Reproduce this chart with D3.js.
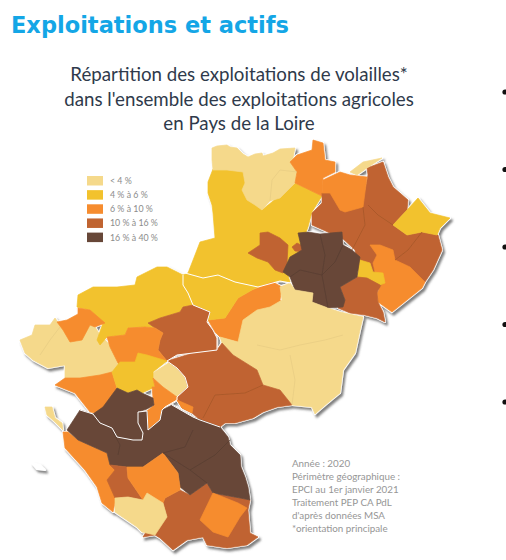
<!DOCTYPE html>
<html>
<head>
<meta charset="utf-8">
<script src="https://cdn.jsdelivr.net/npm/d3@7"></script>
<style>
  html, body { margin: 0; background: #fff; }
  svg { display: block; }
</style>
</head>
<body>
<div id="container"></div>
<script>
const classLabels = ["< 4 %", "4 % à 6 %", "6 % à 10 %", "10 % à 16 %", "16 % à 40 %"];
const classColors = ["#f5d98b", "#f2c22d", "#f68c2e", "#c06431", "#674738"];
const titleLines = ["Répartition des exploitations de volailles*", "dans l'ensemble des exploitations agricoles", "en Pays de la Loire"];
const noteLines = ["Année : 2020", "Périmètre géographique :", "EPCI au 1er janvier 2021", "Traitement PEP CA PdL", "d'après données MSA", "*orientation principale"];

// class of each zone (index in classLabels), same order as zoneRings, painted in order
const zoneClasses = [
  1, 0, 2, 3, 3, 3, 2, 0, 1, 2, 1, 3, 4,
  2, 1, 0,
  0, 1, 2, 3, 0, 2, 2, 1, 3, 2, 4, 2,
  2, 3, 4, 2, 3, 2, 0, 0
];
const zoneRings = [
  // Mayenne, Sarthe
  [[213,169],[228,169],[243,171],[262,210],[295,183],[322,196],[312,212],[308,227],[305,235],[305,255],[288,275],[290,282],[280,281],[258,287],[235,282],[218,275],[203,278],[188,273],[195,255],[200,242],[215,238],[213,213],[212,205],[208,193],[208,182]],
  [[212,148],[217,146],[227,145],[230,147],[237,148],[243,154],[248,157],[255,154],[262,153],[263,156],[273,153],[280,149],[295,148],[293,158],[290,162],[297,172],[295,183],[280,198],[270,201],[262,210],[255,205],[247,200],[242,190],[245,183],[243,172],[227,170],[213,170],[212,160]],
  [[290,162],[297,155],[312,150],[313,140],[323,143],[325,160],[335,162],[335,172],[323,178],[322,196],[295,183],[297,172]],
  [[248,253],[260,245],[260,233],[268,232],[280,238],[288,245],[287,263],[283,273],[275,270],[268,262],[257,258]],
  [[292,247],[297,243],[301,245],[305,252],[295,251]],
  [[322,193],[330,193],[345,190],[365,190],[368,175],[367,168],[383,162],[388,177],[393,187],[408,200],[407,210],[393,225],[407,235],[422,232],[438,235],[442,250],[433,270],[425,282],[400,288],[380,290],[360,280],[355,250],[342,238],[330,233],[312,225],[312,213],[322,203]],
  [[323,180],[340,172],[350,175],[367,177],[363,207],[345,212],[340,210],[330,193],[322,193]],
  [[350,172],[363,162],[382,158],[367,168],[357,175]],
  [[393,225],[407,210],[418,198],[430,213],[450,218],[440,228],[437,235],[422,232],[407,235]],
  [[370,245],[380,245],[393,250],[395,260],[410,267],[425,282],[422,288],[407,300],[392,312],[378,302],[377,293],[383,283],[375,272],[373,263],[377,255]],
  [[360,260],[370,263],[373,272],[383,273],[385,283],[380,285],[367,278],[357,277]],
  [[340,287],[357,277],[367,278],[380,285],[377,293],[378,302],[383,312],[385,322],[377,318],[365,315],[350,313],[338,308],[345,300]],
  [[298,233],[308,232],[320,234],[330,233],[342,232],[343,245],[352,250],[360,257],[357,277],[340,287],[345,300],[343,307],[328,308],[312,302],[313,293],[295,290],[290,277],[283,272],[290,257],[302,250]],
  // Maine-et-Loire
  [[208,320],[225,318],[238,298],[252,290],[273,282],[282,287],[280,300],[290,310],[260,340],[243,337],[238,342],[220,337],[215,332]],
  [[183,275],[188,273],[203,278],[218,275],[235,282],[258,287],[252,290],[238,298],[225,318],[208,320],[207,322],[210,312],[193,305],[188,293],[183,285]],
  [[220,337],[238,342],[243,320],[257,310],[270,307],[282,300],[280,287],[290,283],[295,290],[313,293],[312,302],[328,308],[340,312],[363,317],[360,330],[355,353],[343,370],[340,393],[335,397],[323,407],[315,414],[312,407],[292,405],[280,390],[263,385],[257,370],[233,355],[222,343]],
  // Loire-Atlantique
  [[20,340],[32,335],[35,325],[50,325],[55,318],[60,325],[75,335],[92,322],[100,335],[110,345],[122,365],[112,375],[100,378],[65,378],[65,365],[48,368],[33,360],[25,353]],
  [[78,295],[93,287],[117,287],[135,285],[137,277],[157,267],[167,267],[183,275],[183,285],[188,293],[193,305],[183,307],[180,312],[160,318],[148,323],[155,328],[145,327],[128,328],[125,335],[107,337],[100,345],[97,340],[103,323],[90,310],[80,308],[77,307]],
  [[57,322],[67,320],[78,314],[78,308],[90,310],[105,323],[95,327],[90,325],[82,340],[70,342],[63,330]],
  [[148,323],[160,318],[180,312],[183,307],[193,305],[210,312],[207,322],[213,330],[217,338],[217,350],[193,353],[177,355],[167,361],[158,350],[160,340],[163,333],[155,328]],
  [[153,373],[170,362],[177,368],[185,377],[188,387],[177,397],[163,387],[153,378]],
  [[107,337],[125,335],[128,328],[145,327],[155,328],[163,333],[160,340],[158,350],[167,361],[150,365],[125,370],[118,363],[110,347]],
  [[55,385],[65,378],[80,378],[100,375],[112,372],[117,388],[105,407],[100,414],[90,412],[75,393]],
  [[112,372],[120,362],[135,362],[138,353],[147,355],[167,361],[153,372],[153,378],[155,387],[142,393],[137,390],[128,393],[117,388]],
  [[167,361],[193,353],[217,350],[222,343],[233,355],[257,370],[263,385],[280,390],[292,405],[277,407],[263,412],[253,418],[235,423],[225,423],[220,427],[200,420],[192,413],[182,408],[177,400],[177,397],[188,387],[185,377],[177,368]],
  [[152,387],[155,387],[153,378],[163,387],[177,397],[177,400],[165,407],[162,410],[160,420],[148,430],[147,411],[154,405],[153,398]],
  [[93,414],[103,407],[117,388],[128,393],[137,390],[142,393],[153,398],[154,405],[147,409],[138,412],[138,423],[143,433],[142,440],[133,440],[117,437],[112,428],[100,423]],
  [[177,400],[193,407],[192,413],[182,408]],
  // Vendée
  [[63,432],[68,432],[78,440],[107,453],[110,465],[125,470],[125,490],[115,503],[113,512],[102,503],[97,487],[85,470],[65,448]],
  [[163,503],[165,498],[180,490],[190,495],[207,483],[213,493],[240,498],[250,500],[248,510],[250,533],[258,537],[247,545],[227,548],[207,545],[203,537],[187,540],[173,550],[160,538],[155,535],[143,537],[147,530],[167,517]],
  [[67,430],[80,410],[93,414],[100,423],[112,428],[117,437],[133,440],[142,440],[143,433],[138,423],[138,412],[147,411],[148,430],[160,420],[162,410],[172,405],[193,417],[220,427],[228,437],[230,445],[240,455],[241,467],[245,477],[248,487],[250,500],[240,498],[213,493],[207,483],[190,495],[180,487],[178,473],[163,453],[143,467],[127,467],[110,465],[107,453],[78,440]],
  [[213,493],[238,503],[247,508],[240,517],[228,537],[213,532],[200,520]],
  [[115,470],[110,465],[127,467],[128,478],[143,500],[128,497],[115,498],[107,480]],
  [[127,467],[143,467],[163,453],[178,473],[180,487],[180,490],[165,498],[163,503],[143,500],[128,478]],
  [[115,498],[128,497],[143,500],[147,493],[163,503],[167,517],[155,535],[142,532],[137,527],[115,512]],
  [[45,407],[52,407],[55,418],[62,423],[63,430],[55,422],[47,415]]
];
const islandRing = [[32,463],[40,465],[45,470],[37,469]];

// white limits between departments
const borderLines = [
  [[185,273],[203,278],[218,275],[235,282],[258,287],[280,281],[290,283]],
  [[183,275],[183,285],[188,293],[193,305],[210,312],[207,322],[213,330],[217,338],[217,350],[193,353],[177,355],[167,361]],
  [[167,361],[177,368],[185,377],[188,387],[177,397],[177,400],[165,407],[162,410],[160,420],[148,430],[147,411],[138,412],[138,423],[143,433],[142,440],[133,440],[117,437],[112,428],[100,423],[93,414],[80,410]],
  [[172,405],[193,417],[200,420],[220,427]]
];
// thin limits between EPCI of the same class
const innerClasses = [4, 4, 4, 4, 4, 4, 0, 0, 0, 3, 3, 3, 3, 0];
const innerLines = [
  [[320,234],[325,255],[322,275],[328,308]],
  [[343,245],[335,262],[322,275],[300,270],[290,277]],
  [[163,453],[185,447],[193,430]],
  [[163,453],[190,470],[207,483]],
  [[190,470],[215,455],[230,440]],
  [[112,430],[120,445],[118,455]],
  [[270,201],[272,180],[280,170],[297,172]],
  [[257,345],[280,350],[300,345],[325,340],[343,335]],
  [[290,355],[295,380],[292,405]],
  [[368,205],[378,215],[393,225]],
  [[352,250],[365,225],[363,207]],
  [[395,260],[408,250],[422,232]],
  [[203,418],[215,395],[245,393],[263,385]],
  [[40,355],[50,340],[60,327]]
];

const svg = d3.select("#container").append("svg").attr("width", 506).attr("height", 560);

const defs = svg.append("defs");
const shadow = defs.append("filter").attr("id", "shadow").attr("x", "-10%").attr("y", "-10%").attr("width", "120%").attr("height", "120%");
shadow.append("feDropShadow")
  .attr("dx", 2).attr("dy", 2.5).attr("stdDeviation", 1.3)
  .attr("flood-color", "#555").attr("flood-opacity", 0.75);

const geo = d3.geoPath(d3.geoIdentity());
const polygon = (ring) => geo({ type: "Polygon", coordinates: [[...ring, ring[0]]] });
const line = (coords) => geo({ type: "LineString", coordinates: coords });
const color = d3.scaleOrdinal().domain(d3.range(classLabels.length)).range(classColors);
const darken = (c, k) => d3.rgb(c).darker(k).formatHex();

svg.append("text")
  .attr("x", 11).attr("y", 33)
  .attr("font-family", "DejaVu Sans").attr("font-weight", "bold").attr("font-size", 22.5)
  .attr("fill", "#14a6e6")
  .text("Exploitations et actifs");

svg.append("g")
  .selectAll("text")
  .data(titleLines)
  .join("text")
  .attr("x", 239)
  .attr("y", (d, i) => 81 + i * 24.5)
  .attr("text-anchor", "middle")
  .attr("font-family", "Lato").attr("font-size", 18.7)
  .attr("fill", "#2f3a4b")
  .text((d) => d);

const zones = zoneRings.map((ring, i) => ({ ring, cls: zoneClasses[i] }));

const map = svg.append("g").attr("filter", "url(#shadow)");

// white rim under everything
map.append("g")
  .selectAll("path")
  .data([...zoneRings, islandRing])
  .join("path")
  .attr("d", polygon)
  .attr("fill", "#fff").attr("stroke", "#fff").attr("stroke-width", 2.2).attr("stroke-linejoin", "round");

map.append("g")
  .selectAll("path")
  .data(zones)
  .join("path")
  .attr("d", (d) => polygon(d.ring))
  .attr("fill", (d) => color(d.cls))
  .attr("stroke", (d) => color(d.cls))
  .attr("stroke-width", 0.7)
  .attr("stroke-linejoin", "round");

map.append("g")
  .selectAll("path")
  .data(innerLines)
  .join("path")
  .attr("d", line)
  .attr("fill", "none")
  .attr("stroke", (d, i) => darken(color(innerClasses[i]), innerClasses[i] === 0 ? 0.18 : 0.45))
  .attr("stroke-width", 0.7);

map.append("g")
  .selectAll("path")
  .data(borderLines)
  .join("path")
  .attr("d", line)
  .attr("fill", "none").attr("stroke", "#fff").attr("stroke-width", 1).attr("stroke-linejoin", "round");

const legend = svg.append("g")
  .selectAll("g")
  .data(classLabels)
  .join("g")
  .attr("transform", (d, i) => `translate(87,${176 + i * 14.15})`);
legend.append("rect")
  .attr("width", 16).attr("height", 9.5)
  .attr("fill", (d, i) => color(i));
legend.append("text")
  .attr("x", 23).attr("y", 8)
  .attr("font-family", "Lato").attr("font-size", 8.8)
  .attr("fill", "#8b8b8b")
  .text((d) => d);

svg.append("g")
  .selectAll("text")
  .data(noteLines)
  .join("text")
  .attr("x", 292)
  .attr("y", (d, i) => 467 + i * 13)
  .attr("font-family", "Lato").attr("font-size", 9.8)
  .attr("fill", "#969696")
  .text((d) => d);

// slide bullets cut by the right edge
svg.append("g")
  .selectAll("circle")
  .data(d3.range(5))
  .join("circle")
  .attr("cx", 505)
  .attr("cy", (d) => 92 + d * 77.5)
  .attr("r", 2.6)
  .attr("fill", "#111");
</script>
</body>
</html>
